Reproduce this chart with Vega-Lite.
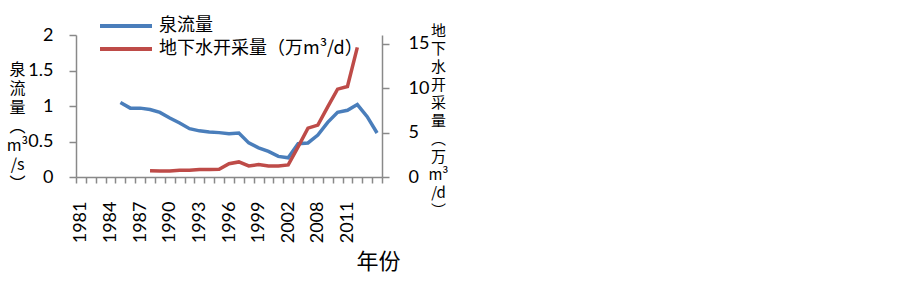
{
  "$schema": "https://vega.github.io/schema/vega-lite/v6.json",
  "width": 306,
  "height": 142,
  "autosize": {"type": "none"},
  "padding": {"left": 76, "top": 35, "right": 521, "bottom": 107},
  "background": "white",
  "config": {
    "view": {"stroke": null},
    "axis": {
      "domainColor": "#898989", "tickColor": "#898989", "domainWidth": 1.5, "tickWidth": 1.5,
      "grid": false, "labelFont": "Lato", "labelFontSize": 18, "labelColor": "#000",
      "titleFont": "Noto Sans CJK SC", "titleFontSize": 16, "titleFontWeight": "normal", "titleColor": "#000"
    }
  },
  "data": {"values": [
    {"year": "1981", "flow": null, "pump": null},
    {"year": "1982", "flow": null, "pump": null},
    {"year": "1983", "flow": null, "pump": null},
    {"year": "1984", "flow": null, "pump": null},
    {"year": "1985", "flow": 1.05, "pump": null},
    {"year": "1986", "flow": 0.97, "pump": null},
    {"year": "1987", "flow": 0.97, "pump": null},
    {"year": "1988", "flow": 0.95, "pump": 0.7},
    {"year": "1989", "flow": 0.91, "pump": 0.68},
    {"year": "1990", "flow": 0.83, "pump": 0.68},
    {"year": "1991", "flow": 0.76, "pump": 0.75},
    {"year": "1992", "flow": 0.68, "pump": 0.76},
    {"year": "1993", "flow": 0.65, "pump": 0.85},
    {"year": "1994", "flow": 0.635, "pump": 0.85},
    {"year": "1995", "flow": 0.625, "pump": 0.86},
    {"year": "1996", "flow": 0.61, "pump": 1.5},
    {"year": "1997", "flow": 0.62, "pump": 1.7},
    {"year": "1998", "flow": 0.48, "pump": 1.25},
    {"year": "1999", "flow": 0.41, "pump": 1.4},
    {"year": "2000", "flow": 0.36, "pump": 1.25},
    {"year": "2001", "flow": 0.29, "pump": 1.25},
    {"year": "2002", "flow": 0.27, "pump": 1.36},
    {"year": "2006", "flow": 0.47, "pump": 3.4},
    {"year": "2007", "flow": 0.48, "pump": 5.5},
    {"year": "2008", "flow": 0.59, "pump": 5.85},
    {"year": "2009", "flow": 0.77, "pump": 7.9},
    {"year": "2010", "flow": 0.91, "pump": 9.9},
    {"year": "2011", "flow": 0.94, "pump": 10.2},
    {"year": "2012", "flow": 1.02, "pump": 14.6},
    {"year": "2013", "flow": 0.85, "pump": null},
    {"year": "2014", "flow": 0.62, "pump": null}
  ]},
  "encoding": {
    "x": {
      "field": "year", "type": "ordinal", "bandPosition": 0.5,
      "scale": {"type": "band", "paddingInner": 0, "paddingOuter": 0,
        "domain": ["1981","1982","1983","1984","1985","1986","1987","1988","1989","1990","1991","1992","1993","1994","1995","1996","1997","1998","1999","2000","2001","2002","2006","2007","2008","2009","2010","2011","2012","2013","2014"]},
      "axis": {
        "title": "年份", "titleFontSize": 22, "titleX": 302, "titleY": 84, "titleAlign": "center", "titleBaseline": "middle",
        "labelAngle": -90, "labelPadding": 18, "tickSize": 6, "tickBand": "extent",
        "labelExpr": "indexof(['1981','1984','1987','1990','1993','1996','1999','2002','2008','2011'], datum.value) >= 0 ? datum.label : ''"
      }
    }
  },
  "layer": [
    {
      "transform": [{"filter": "isValid(datum.flow)"}],
      "mark": {"type": "line", "strokeWidth": 3.5},
      "encoding": {
        "y": {
          "field": "flow", "type": "quantitative",
          "scale": {"domain": [0, 2]},
          "axis": {
            "title": ["泉","流","量","︵","m³","/s","︶"], "titleAngle": 0, "titleAlign": "center", "titleBaseline": "top",
            "titleX": -59, "titleY": 26, "titleLineHeight": 19,
            "values": [0, 0.5, 1, 1.5, 2], "format": "~g", "tickSize": 7, "labelPadding": 16
          }
        },
        "color": {
          "datum": "泉流量", "type": "nominal",
          "scale": {"range": ["#4A7EBB"]},
          "legend": {"orient": "none", "legendX": 22, "legendY": -37, "symbolType": "stroke", "symbolSize": 2704,
            "symbolStrokeWidth": 4, "labelFont": "Noto Sans CJK SC", "labelFontSize": 18, "labelOffset": 5,
            "title": null, "padding": 0, "labelColor": "#000", "labelLimit": 400}
        }
      }
    },
    {
      "transform": [{"filter": "isValid(datum.pump)"}],
      "mark": {"type": "line", "strokeWidth": 3.5},
      "encoding": {
        "y": {
          "field": "pump", "type": "quantitative",
          "scale": {"domain": [0, 16]},
          "axis": {
            "orient": "right",
            "title": ["地","下","水","开","采","量","︵","万","m³","/d","︶"], "titleAngle": 0, "titleAlign": "center", "titleBaseline": "top",
            "titleX": 56, "titleY": -12, "titleFontSize": 15, "titleLineHeight": 18,
            "values": [0, 5, 10, 15], "tickSize": 7, "labelPadding": 19
          }
        },
        "color": {
          "datum": "地下水开采量（万m³/d）", "type": "nominal",
          "scale": {"range": ["#BE4B48"]},
          "legend": {"orient": "none", "legendX": 22, "legendY": -14, "symbolType": "stroke", "symbolSize": 2704,
            "symbolStrokeWidth": 4, "labelFont": "Noto Sans CJK SC", "labelFontSize": 18, "labelOffset": 5,
            "title": null, "padding": 0, "labelColor": "#000", "labelLimit": 400}
        }
      }
    }
  ],
  "resolve": {"scale": {"y": "independent", "color": "independent"}, "legend": {"color": "independent"}}
}
